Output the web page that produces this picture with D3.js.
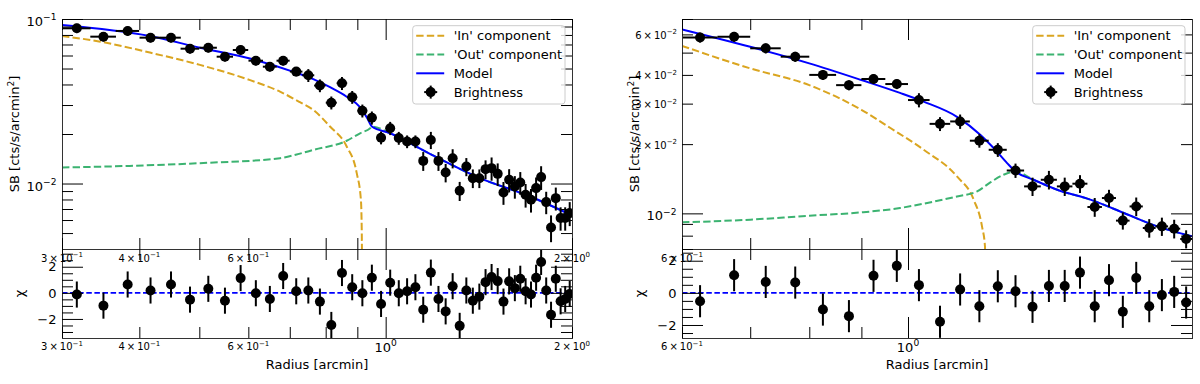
<!DOCTYPE html>
<html>
<head>
<meta charset="utf-8">
<script src="https://cdn.jsdelivr.net/npm/d3@7"></script>
<style>
body { margin: 0; background: #fff; }
svg { display: block; font-family: "DejaVu Sans", sans-serif; }
</style>
</head>
<body>
<svg id="chart" width="1200" height="384"></svg>
<script>
// --- Data: left profile ---
const leftRadius = [0.317, 0.350, 0.383, 0.417, 0.450, 0.483, 0.517, 0.550, 0.583, 0.617,
    0.650, 0.683, 0.717, 0.750, 0.783, 0.817, 0.850, 0.883, 0.917, 0.950,
    0.983, 1.017, 1.050, 1.083, 1.117, 1.150, 1.183, 1.217, 1.250, 1.283,
    1.317, 1.350, 1.383, 1.417, 1.450, 1.483, 1.517, 1.550, 1.583, 1.617,
    1.650, 1.683, 1.717, 1.750, 1.783, 1.817, 1.850, 1.883, 1.917, 1.950, 1.983];
const leftBinHalf = 0.0167;
const leftSB = [0.0878, 0.0781, 0.0846, 0.0770, 0.0770, 0.0660, 0.0669, 0.0590, 0.0648, 0.0558,
    0.0513, 0.0558, 0.0479, 0.0455, 0.0394, 0.0310, 0.0407, 0.0335, 0.0277, 0.0251,
    0.0190, 0.0217, 0.0189, 0.0180, 0.0180, 0.01373, 0.0184, 0.01373, 0.01166, 0.01426,
    0.00903, 0.01268, 0.01078, 0.01078, 0.01223, 0.01240, 0.01145, 0.00882, 0.01053, 0.00959,
    0.01014, 0.00854, 0.00796, 0.00938, 0.01094, 0.00771, 0.00540, 0.00815, 0.00617, 0.00617, 0.00661];
const leftSBErr = [0.0057, 0.0051, 0.0055, 0.0050, 0.0050, 0.0043, 0.0043, 0.0038, 0.0042, 0.0036,
    0.0033, 0.0036, 0.0031, 0.0041, 0.0035, 0.0028, 0.0037, 0.0030, 0.0025, 0.0023,
    0.0017, 0.0020, 0.0017, 0.0016, 0.0016, 0.0018, 0.0022, 0.0018, 0.0015, 0.0019,
    0.0012, 0.0016, 0.0014, 0.0014, 0.0016, 0.0020, 0.0018, 0.0014, 0.0017, 0.0015,
    0.0016, 0.0014, 0.0013, 0.0015, 0.0018, 0.0012, 0.0010, 0.0013, 0.0010, 0.0010, 0.0011];
const leftChi = [-0.13, -0.98, 0.64, 0.18, 0.64, -0.52, 0.31, -0.60, 1.13, -0.03,
    -0.47, 1.29, 0.12, 0.18, -0.67, -2.46, 1.52, 0.43, -0.03, 1.16,
    -0.85, 0.78, -0.03, 0.12, 0.43, -1.29, 1.55, -0.47, -1.42, 0.51,
    -2.53, 0.18, -0.60, -0.29, 0.82, 1.21, 0.90, -0.67, 0.88, 0.36,
    1.08, 0.12, -0.13, 1.16, 2.37, 0.18, -1.68, 1.08, -0.65, -0.47, -0.08];

const leftModelR  = [0.3, 0.416, 0.501, 0.616, 0.716, 0.764, 0.813, 0.865, 0.909, 0.934, 0.950, 1.017, 1.179, 1.420, 1.711, 2.0];
const leftModelSB = [0.0920, 0.0788, 0.0669, 0.0564, 0.0472, 0.0431, 0.0385, 0.0337, 0.0291, 0.0249, 0.0222, 0.0202, 0.01515, 0.01078, 0.00834, 0.0064];
const leftInR  = [0.3, 0.346, 0.416, 0.501, 0.604, 0.675, 0.727, 0.764, 0.813, 0.865, 0.898, 0.912, 0.915, 0.917];
const leftInSB = [0.0788, 0.0728, 0.0625, 0.0526, 0.0425, 0.0362, 0.0312, 0.0280, 0.0222, 0.0168, 0.01156, 0.00796, 0.0050, 0.0010];
const leftOutR  = [0.3, 0.386, 0.501, 0.675, 0.727, 0.764, 0.865, 0.909, 0.944, 0.950, 1.017, 1.179, 1.420, 1.711, 2.0];
const leftOutSB = [0.01251, 0.0128, 0.0133, 0.01426, 0.0152, 0.0160, 0.0182, 0.0202, 0.0217, 0.0222, 0.0202, 0.01515, 0.01078, 0.00834, 0.0064];

// --- Data: right profile ---
const rightRadius = [0.625, 0.675, 0.725, 0.775, 0.825, 0.875, 0.925, 0.975, 1.025, 1.075,
    1.125, 1.175, 1.225, 1.275, 1.325, 1.375, 1.425, 1.475, 1.525, 1.575,
    1.625, 1.675, 1.725, 1.775, 1.825, 1.875];
const rightBinHalf = 0.025;
const rightSB = [0.0582, 0.0586, 0.0522, 0.0480, 0.0400, 0.0361, 0.0384, 0.0365, 0.0311, 0.0245,
    0.0251, 0.0207, 0.0189, 0.01536, 0.01310, 0.01400, 0.01310, 0.01346, 0.01066, 0.01166,
    0.00930, 0.01072, 0.00864, 0.00878, 0.00858, 0.00774];
const rightSBErr = [0.0029, 0.0029, 0.0026, 0.0024, 0.0020, 0.0018, 0.0019, 0.0018, 0.0022, 0.0017,
    0.0018, 0.0014, 0.0013, 0.0011, 0.0012, 0.0013, 0.0012, 0.0012, 0.0010, 0.0010,
    0.0008, 0.0010, 0.0008, 0.0008, 0.0008, 0.0007];
const rightChi = [-0.52, 1.10, 0.68, 0.64, -1.04, -1.45, 1.06, 1.68, 0.48, -1.80,
    0.21, -0.83, 0.41, 0.10, -0.87, 0.43, 0.43, 1.26, -0.83, 0.79,
    -1.18, 0.93, -0.83, -0.14, 0.06, -0.60];

const rightModelR  = [0.6, 0.7, 0.8, 0.9, 0.982, 1.036, 1.117, 1.178, 1.214, 1.251, 1.275, 1.328, 1.401, 1.510, 1.629, 1.756, 1.9];
const rightModelSB = [0.0631, 0.0530, 0.0449, 0.0380, 0.0334, 0.0306, 0.0263, 0.02194, 0.0192, 0.01654, 0.0152, 0.0140, 0.01267, 0.01147, 0.01004, 0.00878, 0.00795];
const rightInR  = [0.6, 0.7, 0.8, 0.9, 0.961, 1.036, 1.117, 1.160, 1.182, 1.190, 1.192];
const rightInSB = [0.0535, 0.0427, 0.0361, 0.0282, 0.0235, 0.0189, 0.01447, 0.01147, 0.00878, 0.00719, 0.0010];
const rightOutR  = [0.6, 0.7, 0.8, 0.9, 0.982, 1.036, 1.117, 1.169, 1.2045, 1.241, 1.275, 1.328, 1.401, 1.510, 1.629, 1.756, 1.9];
const rightOutSB = [0.00914, 0.00939, 0.00977, 0.0101, 0.01055, 0.01102, 0.01185, 0.01246, 0.01363, 0.01472, 0.0152, 0.0140, 0.01267, 0.01147, 0.01004, 0.00878, 0.00795];

const chiErr = 1.0;

// --- Ticks ---
const leftXMinor = [0.3, 0.4, 0.5, 0.6, 0.7, 0.8, 0.9, 2.0];
const leftXMinorLabels = [[0.3, "3", "\u22121"], [0.4, "4", "\u22121"], [0.6, "6", "\u22121"], [2.0, "2", "0"]];
const rightXMinor = [0.6, 0.7, 0.8, 0.9];
const rightXMinorLabels = [[0.6, "6", "\u22121"]];
const xMajor = [1.0];
const leftYMajor = [0.01, 0.1];
const leftYMajorLabels = [[0.1, "\u22121"], [0.01, "\u22122"]];
const leftYMinor = [0.005, 0.006, 0.007, 0.008, 0.009, 0.02, 0.03, 0.04, 0.05, 0.06, 0.07, 0.08, 0.09];
const leftYMinorLabels = [];
const rightYMajor = [0.01];
const rightYMajorLabels = [[0.01, "\u22122"]];
const rightYMinor = [0.007, 0.008, 0.009, 0.02, 0.03, 0.04, 0.05, 0.06, 0.07];
const rightYMinorLabels = [[0.02, "2", "\u22122"], [0.03, "3", "\u22122"], [0.04, "4", "\u22122"], [0.06, "6", "\u22122"]];
const chiMajor = [-2, 0, 2];
const leftChiMinor = [-3, -2.5, -1.5, -1, -0.5, 0.5, 1, 1.5, 2.5, 3];
const rightChiMinor = [-2.5, -1.5, -1, -0.5, 0.5, 1, 1.5, 2.5];

// --- Layout ---
const TOP_Y0 = 19, TOP_Y1 = 249, BOT_Y1 = 338;
const MAJOR_LEN = 21, MINOR_LEN = 11;
const COL_IN = "#DAA520", COL_OUT = "#3CB371", COL_MODEL = "#0000FF";

const svg = d3.select("#chart");
const defs = svg.append("defs");

function tickGroup(g, axis, values, len, transform) {
    const t = g.append("g").attr("transform", transform)
        .call(axis.tickValues(values).tickSize(-len).tickFormat(""));
    t.select(".domain").remove();
    t.selectAll("line").attr("stroke", "#000").attr("stroke-width", 1);
    t.selectAll("text").remove();
}

function mathLabel(g, x, y, anchor, size, mant, exp) {
    const t = g.append("text").attr("x", x).attr("y", y)
        .attr("text-anchor", anchor).attr("font-size", size).attr("fill", "#000");
    t.append("tspan").text(mant ? mant + "\u2009\u00d7\u200910" : "10");
    t.append("tspan").attr("dy", -0.45 * size).attr("font-size", size * 0.7).text(exp);
}

function drawPanel(p) {
    const g = svg.append("g");
    const x = d3.scaleLog().domain(p.xDomain).range([p.x0, p.x1]);
    const yTop = d3.scaleLog().domain(p.yDomain).range([TOP_Y1, TOP_Y0]);
    const yBot = d3.scaleLinear().domain(p.chiDomain).range([BOT_Y1, TOP_Y1]);

    defs.append("clipPath").attr("id", p.id + "-top").append("rect")
        .attr("x", p.x0).attr("y", TOP_Y0).attr("width", p.x1 - p.x0).attr("height", TOP_Y1 - TOP_Y0);
    defs.append("clipPath").attr("id", p.id + "-bot").append("rect")
        .attr("x", p.x0).attr("y", TOP_Y1).attr("width", p.x1 - p.x0).attr("height", BOT_Y1 - TOP_Y1);

    // --- top: model curves ---
    const top = g.append("g").attr("clip-path", `url(#${p.id}-top)`);
    const line = d3.line().x(d => x(d[0])).y(d => yTop(d[1])).curve(d3.curveMonotoneX);
    const curves = [
        { r: p.inR, v: p.inSB, color: COL_IN, dash: "7.4,3.2" },
        { r: p.outR, v: p.outSB, color: COL_OUT, dash: "7.4,3.2" },
        { r: p.modelR, v: p.modelSB, color: COL_MODEL, dash: null }
    ];
    curves.forEach(c => {
        top.append("path")
            .attr("d", line(c.r.map((r, i) => [r, c.v[i]])))
            .attr("fill", "none").attr("stroke", c.color).attr("stroke-width", 2)
            .attr("stroke-dasharray", c.dash);
    });

    // --- top: data ---
    const pts = p.radius.map((r, i) => ({ r, v: p.sb[i], e: p.sbErr[i], chi: p.chi[i] }));
    const dg = top.append("g");
    dg.selectAll("line.xe").data(pts).join("line")
        .attr("x1", d => x(d.r - p.binHalf)).attr("x2", d => x(d.r + p.binHalf))
        .attr("y1", d => yTop(d.v)).attr("y2", d => yTop(d.v))
        .attr("stroke", "#000").attr("stroke-width", 2);
    dg.selectAll("line.ye").data(pts).join("line")
        .attr("x1", d => x(d.r)).attr("x2", d => x(d.r))
        .attr("y1", d => yTop(d.v - d.e)).attr("y2", d => yTop(d.v + d.e))
        .attr("stroke", "#000").attr("stroke-width", 2);
    dg.selectAll("circle").data(pts).join("circle")
        .attr("cx", d => x(d.r)).attr("cy", d => yTop(d.v)).attr("r", 5).attr("fill", "#000");

    // --- bottom: residuals ---
    const bot = g.append("g").attr("clip-path", `url(#${p.id}-bot)`);
    bot.append("line")
        .attr("x1", p.x0).attr("x2", p.x1).attr("y1", yBot(0)).attr("y2", yBot(0))
        .attr("stroke", COL_MODEL).attr("stroke-width", 1.8).attr("stroke-dasharray", "5.5,2.6");
    bot.selectAll("line.ce").data(pts).join("line")
        .attr("x1", d => x(d.r)).attr("x2", d => x(d.r))
        .attr("y1", d => yBot(d.chi - chiErr)).attr("y2", d => yBot(d.chi + chiErr))
        .attr("stroke", "#000").attr("stroke-width", 2);
    bot.selectAll("circle").data(pts).join("circle")
        .attr("cx", d => x(d.r)).attr("cy", d => yBot(d.chi)).attr("r", 5).attr("fill", "#000");

    // --- frames ---
    [[TOP_Y0, TOP_Y1], [TOP_Y1, BOT_Y1]].forEach(([a, b]) => {
        g.append("rect").attr("x", p.x0 + 0.5).attr("y", a + 0.5)
            .attr("width", p.x1 - p.x0).attr("height", b - a)
            .attr("fill", "none").attr("stroke", "#333").attr("stroke-width", 1);
    });

    // --- ticks ---
    [[TOP_Y0, TOP_Y1, yTop, p.yMajor, p.yMinor], [TOP_Y1, BOT_Y1, yBot, chiMajor, p.chiMinor]].forEach(([a, b, ys, maj, min]) => {
        tickGroup(g, d3.axisBottom(x), xMajor, MAJOR_LEN, `translate(0,${b})`);
        tickGroup(g, d3.axisBottom(x), p.xMinor, MINOR_LEN, `translate(0,${b})`);
        tickGroup(g, d3.axisTop(x), xMajor, MAJOR_LEN, `translate(0,${a})`);
        tickGroup(g, d3.axisTop(x), p.xMinor, MINOR_LEN, `translate(0,${a})`);
        tickGroup(g, d3.axisLeft(ys), maj, MAJOR_LEN, `translate(${p.x0},0)`);
        tickGroup(g, d3.axisLeft(ys), min, MINOR_LEN, `translate(${p.x0},0)`);
        tickGroup(g, d3.axisRight(ys), maj, MAJOR_LEN, `translate(${p.x1},0)`);
        tickGroup(g, d3.axisRight(ys), min, MINOR_LEN, `translate(${p.x1},0)`);
    });

    // --- tick labels ---
    p.yMajorLabels.forEach(([v, e]) => mathLabel(g, p.x0 - 5.5, yTop(v) + 7, "end", 13, null, e));
    p.yMinorLabels.forEach(([v, m, e]) => mathLabel(g, p.x0 - 5, yTop(v) + 4.5, "end", 10, m, e));
    chiMajor.forEach(v => {
        g.append("text").attr("x", p.x0 - 5.5).attr("y", yBot(v) + 4.7)
            .attr("text-anchor", "end").attr("font-size", 13)
            .text(v < 0 ? "\u2212" + Math.abs(v) : String(v));
    });
    p.xMinorLabels.forEach(([v, m, e]) => {
        mathLabel(g, x(v), 350, "middle", 10, m, e);
    });
    mathLabel(g, x(1.0), 351.5, "middle", 13, null, "0");
    p.xMinorLabels.forEach(([v, m, e]) => {
        mathLabel(g, x(v), 261.5, "middle", 10, m, e);
    });

    // --- axis titles ---
    const yl = g.append("text").attr("font-size", 13).attr("text-anchor", "middle")
        .attr("transform", `translate(${p.x0 - 43.5},${(TOP_Y0 + TOP_Y1) / 2}) rotate(-90)`);
    yl.append("tspan").text("SB [cts/s/arcmin");
    yl.append("tspan").attr("dy", -5).attr("font-size", 9).text("2");
    yl.append("tspan").attr("dy", 5).text("]");
    g.append("text").attr("font-size", 13).attr("text-anchor", "middle")
        .attr("transform", `translate(${p.x0 - 38},${(TOP_Y1 + BOT_Y1) / 2}) rotate(-90)`)
        .text("\u03c7");
    g.append("text").attr("x", (p.x0 + p.x1) / 2).attr("y", 369)
        .attr("font-size", 13).attr("text-anchor", "middle").text("Radius [arcmin]");

    // --- legend ---
    const lg = g.append("g").attr("transform", `translate(${p.legendX},25.7)`);
    lg.append("rect").attr("width", 152.3).attr("height", 78.3).attr("rx", 3)
        .attr("fill", "#fff").attr("fill-opacity", 0.8).attr("stroke", "#ccc");
    const entries = [
        { label: "'In' component", color: COL_IN, dash: "7.4,3.2" },
        { label: "'Out' component", color: COL_OUT, dash: "7.4,3.2" },
        { label: "Model", color: COL_MODEL, dash: null },
        { label: "Brightness", color: "#000", marker: true }
    ];
    entries.forEach((en, i) => {
        const cy = 10 + i * 18.8;
        if (en.marker) {
            lg.append("line").attr("x1", 11.5).attr("x2", 24.5).attr("y1", cy).attr("y2", cy)
                .attr("stroke", "#000").attr("stroke-width", 2);
            lg.append("line").attr("x1", 18).attr("x2", 18).attr("y1", cy - 6.5).attr("y2", cy + 6.5)
                .attr("stroke", "#000").attr("stroke-width", 2);
            lg.append("circle").attr("cx", 18).attr("cy", cy).attr("r", 5).attr("fill", "#000");
        } else {
            lg.append("line").attr("x1", 3.5).attr("x2", 31.5).attr("y1", cy).attr("y2", cy)
                .attr("stroke", en.color).attr("stroke-width", 2).attr("stroke-dasharray", en.dash);
        }
        lg.append("text").attr("x", 41).attr("y", cy + 4.5).attr("font-size", 13).text(en.label);
    });
}

drawPanel({
    id: "left", x0: 62, x1: 572, legendX: 412.7,
    xDomain: [0.3, 2.0], yDomain: [0.004, 0.1], chiDomain: [-3.46, 3.36],
    radius: leftRadius, binHalf: leftBinHalf, sb: leftSB, sbErr: leftSBErr, chi: leftChi,
    modelR: leftModelR, modelSB: leftModelSB, inR: leftInR, inSB: leftInSB, outR: leftOutR, outSB: leftOutSB,
    xMinor: leftXMinor, xMinorLabels: leftXMinorLabels,
    yMajor: leftYMajor, yMinor: leftYMinor, yMajorLabels: leftYMajorLabels, yMinorLabels: leftYMinorLabels,
    chiMinor: leftChiMinor
});

drawPanel({
    id: "right", x0: 682, x1: 1192, legendX: 1032.7,
    xDomain: [0.6, 1.9], yDomain: [0.007, 0.07], chiDomain: [-2.81, 2.73],
    radius: rightRadius, binHalf: rightBinHalf, sb: rightSB, sbErr: rightSBErr, chi: rightChi,
    modelR: rightModelR, modelSB: rightModelSB, inR: rightInR, inSB: rightInSB, outR: rightOutR, outSB: rightOutSB,
    xMinor: rightXMinor, xMinorLabels: rightXMinorLabels,
    yMajor: rightYMajor, yMinor: rightYMinor, yMajorLabels: rightYMajorLabels, yMinorLabels: rightYMinorLabels,
    chiMinor: rightChiMinor
});
</script>
</body>
</html>
